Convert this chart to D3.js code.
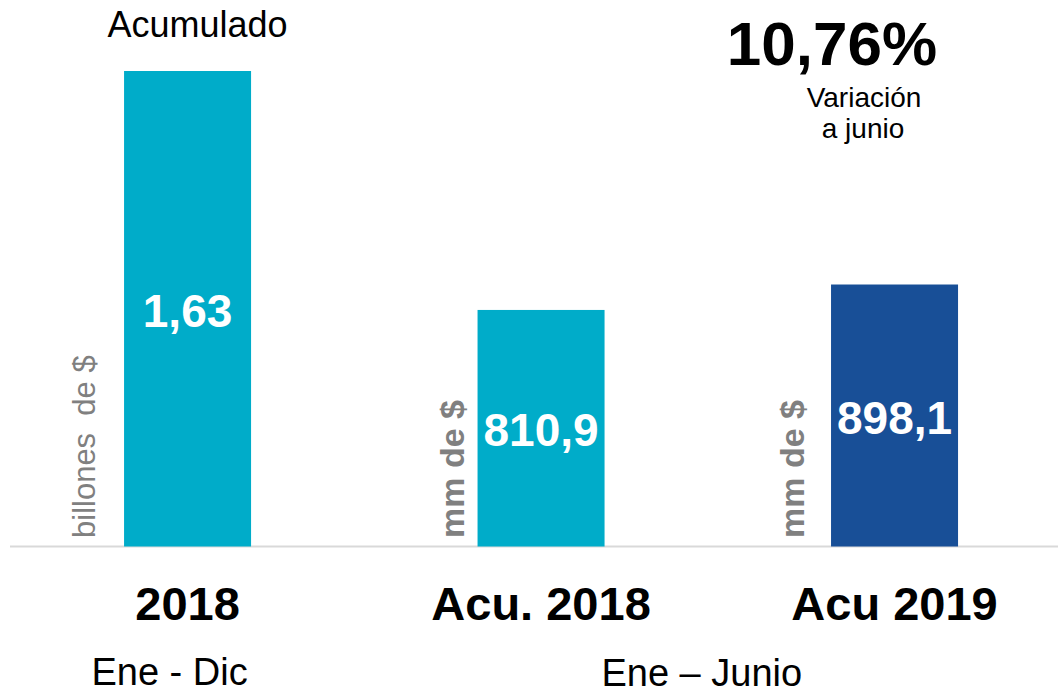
<!DOCTYPE html>
<html>
<head>
<meta charset="utf-8">
<script src="https://cdn.jsdelivr.net/npm/d3@7"></script>
<style>
  html, body { margin: 0; padding: 0; background: #ffffff; }
  svg { display: block; font-family: "Liberation Sans", Arial, sans-serif; }
</style>
</head>
<body>
<script>
// ---- data ----
const categories = ["2018", "Acu. 2018", "Acu 2019"];
const valuesMM = [1630, 810.9, 898.1];          // en mm de $ (1,63 billones = 1630 mm)
const valueLabels = ["1,63", "810,9", "898,1"];
const unitLabels = ["billones  de $", "mm de $", "mm de $"];
const periodLabels = ["Ene - Dic", "Ene \u2013 Junio"];
const variationValue = "10,76%";
const variationText = ["Variaci\u00f3n", "a junio"];
const headerLabel = "Acumulado";

// ---- layout ----
const W = 1058, H = 695;
const baseY = 546.5, topY = 71;
const colors = ["#00ACC9", "#00ACC9", "#184F97"];
const unitBold = [false, true, true];
const unitOffset = [29, 14, 27];

const svg = d3.select("body").append("svg").attr("width", W).attr("height", H);

const x = d3.scaleBand().domain(categories).range([10.8, 1071.3])
  .paddingInner(0.6407).paddingOuter(0.3204);
const y = d3.scaleLinear().domain([0, d3.max(valuesMM)]).range([baseY, topY]);

// baseline
svg.append("line").attr("x1", 10).attr("x2", W).attr("y1", baseY).attr("y2", baseY)
  .attr("stroke", "#D9D9D9").attr("stroke-width", 2);

// bars
svg.selectAll("rect.bar").data(categories).join("rect").attr("class", "bar")
  .attr("x", d => x(d)).attr("width", x.bandwidth())
  .attr("y", (d, i) => y(valuesMM[i])).attr("height", (d, i) => baseY - y(valuesMM[i]))
  .attr("fill", (d, i) => colors[i]);

// value labels
svg.selectAll("text.val").data(categories).join("text").attr("class", "val")
  .attr("x", d => x(d) + x.bandwidth() / 2)
  .attr("y", (d, i) => (y(valuesMM[i]) + baseY) / 2 + 18)
  .attr("text-anchor", "middle").attr("fill", "#ffffff")
  .attr("font-weight", "bold").attr("font-size", 46)
  .text((d, i) => valueLabels[i]);

// unit labels (rotated)
svg.selectAll("text.unit").data(categories).join("text").attr("class", "unit")
  .attr("transform", (d, i) => `translate(${x(d) - unitOffset[i]},538) rotate(-90)`)
  .attr("text-anchor", "start").attr("fill", "#808080")
  .attr("font-weight", (d, i) => unitBold[i] ? "bold" : "normal")
  .attr("font-size", (d, i) => unitBold[i] ? 34 : 31)
  .attr("xml:space", "preserve").style("white-space", "pre")
  .text((d, i) => unitLabels[i]);

// category labels
const xAxis = d3.axisBottom(x).tickSize(0).tickPadding(0);
const gAxis = svg.append("g").attr("transform", `translate(0,${baseY})`).call(xAxis);
gAxis.select(".domain").remove();
gAxis.selectAll("text").attr("y", 73).attr("dy", 0)
  .attr("font-family", "Liberation Sans, Arial, sans-serif")
  .attr("font-size", 47).attr("font-weight", "bold").attr("fill", "#000000");

// period labels
svg.append("text").attr("x", x(categories[0]) + x.bandwidth() / 2 - 18).attr("y", 685)
  .attr("text-anchor", "middle").attr("font-size", 38).attr("fill", "#000")
  .text(periodLabels[0]);
svg.append("text").attr("x", (x(categories[1]) + x(categories[2]) + x.bandwidth()) / 2 - 16).attr("y", 686)
  .attr("text-anchor", "middle").attr("font-size", 38).attr("fill", "#000")
  .text(periodLabels[1]);

// header
svg.append("text").attr("x", x(categories[0]) + x.bandwidth() / 2 + 10).attr("y", 37)
  .attr("text-anchor", "middle").attr("font-size", 36).attr("fill", "#000")
  .text(headerLabel);

// variation annotation
svg.append("text").attr("x", 832).attr("y", 65)
  .attr("text-anchor", "middle").attr("font-size", 62).attr("font-weight", "bold").attr("fill", "#000")
  .text(variationValue);
svg.append("text").attr("x", 864).attr("y", 107)
  .attr("text-anchor", "middle").attr("font-size", 28).attr("fill", "#000")
  .text(variationText[0]);
svg.append("text").attr("x", 863).attr("y", 138)
  .attr("text-anchor", "middle").attr("font-size", 28).attr("fill", "#000")
  .text(variationText[1]);
</script>
</body>
</html>
